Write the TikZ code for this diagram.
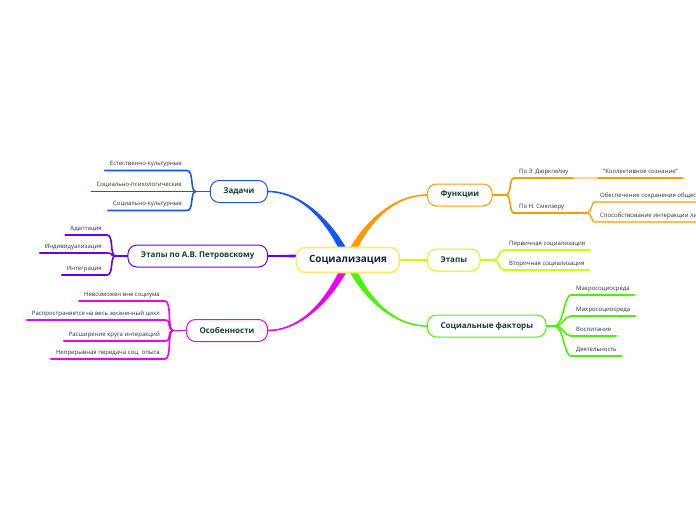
\documentclass[tikz,border=0pt]{standalone}
\usepackage{fontspec}
\setmainfont{Open Sans}
\usetikzlibrary{calc,backgrounds}
\definecolor{cBlue}{RGB}{17,85,255}
\definecolor{cPurple}{RGB}{102,0,238}
\definecolor{cMag}{RGB}{240,0,240}
\definecolor{cOrange}{RGB}{255,153,0}
\definecolor{cOrangeL}{RGB}{255,215,150}
\definecolor{cYG}{RGB}{204,255,0}
\definecolor{cGreen}{RGB}{72,245,0}
\definecolor{cCentral}{RGB}{255,232,110}
\definecolor{nodetext}{RGB}{16,64,48}
\definecolor{centraltext}{RGB}{22,34,68}
\definecolor{leaftext}{RGB}{45,45,45}
\begin{document}
\begin{tikzpicture}[x=1pt,y=-1pt,
  topic/.style={draw=#1, line width=1pt, fill=white, rounded corners=9pt, inner xsep=13pt, inner ysep=0pt, minimum height=22pt, font=\bfseries\fontsize{8}{10}\selectfont, text=nodetext},
  central/.style={draw=cCentral, line width=1.6pt, fill=white, rounded corners=9pt, inner xsep=12.5pt, inner ysep=0pt, minimum height=25pt, font=\bfseries\fontsize{10}{12}\selectfont, text=centraltext},
  leafL/.style={anchor=south east, inner xsep=5pt, inner ysep=3pt, text depth=1.5pt, font=\fontsize{6}{7}\selectfont, text=leaftext},
  leafR/.style={leafL, anchor=south west},
  wire/.style={draw=#1, line width=1.6pt, line cap=round},
  fine/.style={draw=#1, line width=1.2pt, line cap=round}
]
\useasboundingbox (0,0) rectangle (696,520);
\clip (0,0) rectangle (696,520);

% main nodes
\node[central] (soc) at (348,260) {Социализация};
\node[topic=cBlue, anchor=east] (zad) at (268,191.5) {Задачи};
\node[topic=cPurple, anchor=east] (pet) at (268,256) {Этапы по А.В. Петровскому};
\node[topic=cMag, anchor=east] (osob) at (268,330.5) {Особенности};
\node[topic=cOrange, anchor=west] (funk) at (427,195) {Функции};
\node[topic=cYG, anchor=west] (eta) at (427,260) {Этапы};
\node[topic=cGreen, anchor=west] (fak) at (427,326) {Социальные факторы};

% main branches
\begin{scope}[on background layer]
\fill[cBlue] ($(zad.east)+(0,-0.8)$) .. controls +(37,0) and +(-13,-31) .. ($(soc.center)+(4,0)$) -- ($(soc.center)+(-4,0)$) .. controls +(-13,-31) and +(37,0) .. ($(zad.east)+(0,0.8)$) -- cycle;
\fill[cOrange] ($(funk.west)+(0,-0.8)$) .. controls +(-37,0) and +(13,-31) .. ($(soc.center)+(-4,0)$) -- ($(soc.center)+(4,0)$) .. controls +(13,-31) and +(-37,0) .. ($(funk.west)+(0,0.8)$) -- cycle;
\fill[cMag] ($(osob.east)+(0,0.8)$) .. controls +(37,0) and +(-13,32) .. ($(soc.center)+(4,0)$) -- ($(soc.center)+(-4,0)$) .. controls +(-13,32) and +(37,0) .. ($(osob.east)+(0,-0.8)$) -- cycle;
\fill[cGreen] ($(fak.west)+(0,0.8)$) .. controls +(-37,0) and +(13,32) .. ($(soc.center)+(-4,0)$) -- ($(soc.center)+(4,0)$) .. controls +(13,32) and +(-37,0) .. ($(fak.west)+(0,-0.8)$) -- cycle;
\fill[cPurple] ($(pet.east)+(0,-0.8)$) -- ($(pet.east)+(80,-2.5)$) -- ($(pet.east)+(80,2.5)$) -- ($(pet.east)+(0,0.8)$) -- cycle;
\draw[cYG, line width=1.5pt] (soc.east) -- (eta.west);
\end{scope}

% Задачи
\coordinate (jz) at ($(zad.west)+(-14,0)$);
\node[leafL] (z1) at (187,170.5) {Естественно-культурные};
\node[leafL] (z2) at (187,191.5) {Социально-психологические};
\node[leafL] (z3) at (187,210.5) {Социально-культурные};
\draw[wire=cBlue] (zad.west) -- (jz);
\foreach \n in {z1,z2,z3}
  \draw[wire=cBlue] (\n.south west) -- (\n.south east) .. controls +(7,0) and +(-6,0) .. (jz);

% Этапы по А.В. Петровскому
\coordinate (jp) at ($(pet.west)+(-12,0)$);
\node[leafL] (p1) at (107,235) {Адаптация};
\node[leafL] (p2) at (107,253) {Индивидуализация};
\node[leafL] (p3) at (107,275) {Интеграция};
\draw[wire=cPurple] (pet.west) -- (jp);
\foreach \n in {p1,p2,p3}
  \draw[wire=cPurple] (\n.south west) -- (\n.south east) .. controls +(7,0) and +(-6,0) .. (jp);

% Особенности
\coordinate (jo) at ($(osob.west)+(-13,0)$);
\node[leafL] (o1) at (165,301) {Невозможен вне социума};
\node[leafL] (o2) at (165,320) {Распространяется на весь жизненный цикл};
\node[leafL] (o3) at (165,341) {Расширение круга интеракций};
\node[leafL] (o4) at (165,359) {Непрерывная передача соц. опыта};
\draw[wire=cMag] (osob.west) -- (jo);
\foreach \n in {o1,o2,o3,o4}
  \draw[wire=cMag] (\n.south west) -- (\n.south east) .. controls +(7,0) and +(-6,0) .. (jo);

% Функции
\coordinate (jf) at ($(funk.east)+(13,0)$);
\node[leafR] (f1) at (514,178) {По Э. Дюркгейму};
\node[leafR] (f2) at (514,213) {По Н. Смелзеру};
\coordinate (js) at (587,213);
\node[leafR] (f11) at (598,178) {“Коллективное сознание”};
\node[leafR] (f21) at (595,202) {Обеспечение сохранения общества};
\node[leafR] (f22) at (595,222) {Способствование интеракции личности и общества};
\draw[wire=cOrange] (funk.east) -- (jf);
\draw[wire=cOrange] (jf) .. controls +(6,0) and +(-5,0) .. (f1.south west) -- (f1.south east);
\draw[wire=cOrange] (jf) .. controls +(6,0) and +(-5,0) .. (f2.south west) -- (f2.south east) -- (js);
\draw[fine=cOrangeL] (f1.south east) -- (f11.south west);
\draw[fine=cOrange] (f11.south west) -- (f11.south east);
\draw[fine=cOrange] (js) .. controls +(5,0) and +(-4,0) .. (f21.south west) -- (f21.south east);
\draw[fine=cOrange] (js) .. controls +(5,0) and +(-4,0) .. (f22.south west) -- (f22.south east);

% Этапы
\coordinate (je) at ($(eta.east)+(13,0)$);
\node[leafR] (e1) at (504,250) {Первичная социализация};
\node[leafR] (e2) at (504,270) {Вторичная социализация};
\draw[wire=cYG] (eta.east) -- (je);
\foreach \n in {e1,e2}
  \draw[wire=cYG] (je) .. controls +(6,0) and +(-5,0) .. (\n.south west) -- (\n.south east);

% Социальные факторы
\coordinate (jk) at ($(fak.east)+(8,0)$);
\node[leafR] (k1) at (571,295) {Макросоциосреда};
\node[leafR] (k2) at (571,316) {Микросоциосреда};
\node[leafR] (k3) at (571,336) {Воспитание};
\node[leafR] (k4) at (571,356) {Деятельность};
\draw[wire=cGreen] (fak.east) -- (jk);
\foreach \n in {k1,k2,k3,k4}
  \draw[wire=cGreen] (jk) .. controls +(9,0) and +(-7,0) .. (\n.south west) -- (\n.south east);
\end{tikzpicture}
\end{document}
